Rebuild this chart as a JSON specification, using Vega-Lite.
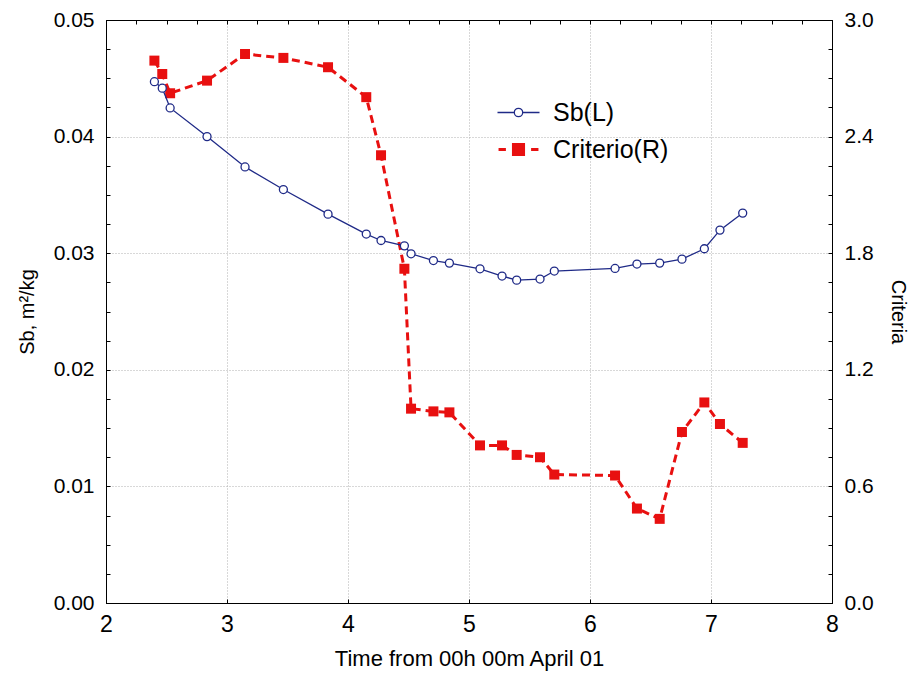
{
  "$schema": "https://vega.github.io/schema/vega-lite/v6.json",
  "width": 726,
  "height": 583,
  "autosize": "none",
  "padding": {"left": 106, "top": 20, "right": 78, "bottom": 72},
  "background": "white",
  "config": {
    "font": "Liberation Sans",
    "view": {"stroke": "black", "strokeWidth": 1},
    "axis": {
      "labelFont": "Liberation Sans",
      "titleFont": "Liberation Sans",
      "labelColor": "black",
      "titleColor": "black",
      "titleFontWeight": "normal",
      "domainColor": "black",
      "tickColor": "black",
      "tickSize": -4,
      "labelOverlap": false,
      "labelFlush": false
    }
  },
  "data": {
    "values": [
      {"t": 2.40, "sb": 0.04471, "crit": 2.791},
      {"t": 2.465, "sb": 0.04415, "crit": 2.722},
      {"t": 2.53, "sb": 0.04246, "crit": 2.623},
      {"t": 2.835, "sb": 0.0400, "crit": 2.688},
      {"t": 3.149, "sb": 0.0374, "crit": 2.825},
      {"t": 3.466, "sb": 0.03546, "crit": 2.805},
      {"t": 3.835, "sb": 0.03335, "crit": 2.757},
      {"t": 4.151, "sb": 0.03164, "crit": 2.603},
      {"t": 4.273, "sb": 0.03109, "crit": 2.304},
      {"t": 4.466, "sb": 0.03063, "crit": 1.720},
      {"t": 4.521, "sb": 0.02995, "crit": 1.000},
      {"t": 4.706, "sb": 0.02937, "crit": 0.986},
      {"t": 4.838, "sb": 0.02915, "crit": 0.981},
      {"t": 5.091, "sb": 0.02866, "crit": 0.811},
      {"t": 5.273, "sb": 0.02804, "crit": 0.811},
      {"t": 5.394, "sb": 0.02769, "crit": 0.762},
      {"t": 5.587, "sb": 0.02778, "crit": 0.750},
      {"t": 5.705, "sb": 0.02847, "crit": 0.661},
      {"t": 6.207, "sb": 0.02869, "crit": 0.656},
      {"t": 6.388, "sb": 0.02907, "crit": 0.486},
      {"t": 6.576, "sb": 0.02915, "crit": 0.433},
      {"t": 6.76, "sb": 0.02949, "crit": 0.880},
      {"t": 6.945, "sb": 0.03038, "crit": 1.032},
      {"t": 7.074, "sb": 0.03198, "crit": 0.921},
      {"t": 7.262, "sb": 0.03344, "crit": 0.824}
    ]
  },
  "layer": [
    {
      "encoding": {
        "x": {
          "field": "t",
          "type": "quantitative",
          "scale": {"domain": [2, 8], "nice": false, "zero": false},
          "axis": {
            "orient": "top",
            "values": [2, 2.25, 2.5, 2.75, 3, 3.25, 3.5, 3.75, 4, 4.25, 4.5, 4.75, 5, 5.25, 5.5, 5.75, 6, 6.25, 6.5, 6.75, 7, 7.25, 7.5, 7.75, 8],
            "labels": false,
            "title": null,
            "grid": false
          }
        },
        "y": {
          "field": "crit",
          "type": "quantitative",
          "scale": {"domain": [0, 3], "nice": false, "zero": false},
          "axis": {
            "orient": "right",
            "title": "Criteria",
            "titleFontSize": 20,
            "titlePadding": 14,
            "labelFontSize": 21,
            "labelPadding": 16,
            "values": [0, 0.15, 0.3, 0.45, 0.6, 0.75, 0.9, 1.05, 1.2, 1.35, 1.5, 1.65, 1.8, 1.95, 2.1, 2.25, 2.4, 2.55, 2.7, 2.85, 3.0],
            "format": ".1f",
            "labelExpr": "abs(datum.value / 0.6 - round(datum.value / 0.6)) < 1e-6 ? datum.label : ''",
            "grid": false
          }
        }
      },
      "layer": [
        {
          "mark": {"type": "line", "strokeWidth": 3, "strokeDash": [8, 5]},
          "encoding": {
            "color": {
              "datum": "Criterio(R)",
              "type": "nominal",
              "scale": {"domain": ["Sb(L)", "Criterio(R)"], "range": ["#1f2a87", "#e81010"]}
            }
          }
        },
        {
          "mark": {"type": "point", "shape": "square", "filled": true, "size": 100, "color": "#e81010", "opacity": 1}
        }
      ]
    },
    {
      "encoding": {
        "x": {
          "field": "t",
          "type": "quantitative",
          "scale": {"domain": [2, 8], "nice": false, "zero": false},
          "axis": {
            "orient": "bottom",
            "values": [2, 2.25, 2.5, 2.75, 3, 3.25, 3.5, 3.75, 4, 4.25, 4.5, 4.75, 5, 5.25, 5.5, 5.75, 6, 6.25, 6.5, 6.75, 7, 7.25, 7.5, 7.75, 8],
            "format": "d",
            "labelExpr": "datum.value % 1 === 0 ? datum.label : ''",
            "title": "Time from 00h 00m April 01",
            "titleFontSize": 22,
            "titlePadding": 12,
            "labelFontSize": 23,
            "labelPadding": 14,
            "grid": true,
            "gridColor": "#b0b0b0",
            "gridDash": [1, 2],
            "gridOpacity": {"condition": {"test": "datum.value % 1 === 0 && datum.value > 2 && datum.value < 8", "value": 1}, "value": 0}
          }
        },
        "y": {
          "field": "sb",
          "type": "quantitative",
          "scale": {"domain": [0, 0.05], "nice": false, "zero": false},
          "axis": {
            "orient": "left",
            "title": "Sb, m²/kg",
            "titleFontSize": 20,
            "titlePadding": 16,
            "labelFontSize": 21,
            "labelPadding": 16,
            "values": [0, 0.0025, 0.005, 0.0075, 0.01, 0.0125, 0.015, 0.0175, 0.02, 0.0225, 0.025, 0.0275, 0.03, 0.0325, 0.035, 0.0375, 0.04, 0.0425, 0.045, 0.0475, 0.05],
            "format": ".2f",
            "labelExpr": "abs(datum.value * 100 - round(datum.value * 100)) < 1e-6 ? datum.label : ''",
            "grid": true,
            "gridColor": "#b0b0b0",
            "gridDash": [1, 2],
            "gridOpacity": {"condition": {"test": "abs(datum.value * 100 - round(datum.value * 100)) < 1e-6 && datum.value > 0.001 && datum.value < 0.049", "value": 1}, "value": 0}
          }
        }
      },
      "layer": [
        {
          "mark": {"type": "line", "strokeWidth": 1.3},
          "encoding": {
            "color": {
              "datum": "Sb(L)",
              "type": "nominal",
              "legend": {
                "orient": "none",
                "legendX": 400,
                "legendY": 80,
                "title": null,
                "labelFontSize": 25,
                "labelFont": "Liberation Sans",
                "labelColor": "black",
                "symbolSize": 1764,
                "labelOffset": 22,
                "rowPadding": 11,
                "encode": {
                  "symbols": {
                    "update": {
                      "shape": {"signal": "datum.value === 'Sb(L)' ? 'M-1,0L-0.2,0M0.2,0L1,0M-0.2,0A0.2,0.2,0,1,0,0.2,0A0.2,0.2,0,1,0,-0.2,0Z' : 'M-0.95,0L-0.6,0M0.6,0L0.95,0M-0.24,-0.24L0.24,-0.24L0.24,0.24L-0.24,0.24Z'"},
                      "fill": {"signal": "datum.value === 'Sb(L)' ? 'white' : '#e81010'"},
                      "stroke": {"signal": "datum.value === 'Sb(L)' ? '#1f2a87' : '#e81010'"},
                      "strokeWidth": {"signal": "datum.value === 'Sb(L)' ? 1.3 : 3"},
                      "strokeDash": {"value": []},
                      "opacity": {"value": 1},
                      "fillOpacity": {"value": 1},
                      "strokeOpacity": {"value": 1}
                    }
                  }
                }
              }
            }
          }
        },
        {
          "mark": {"type": "point", "shape": "circle", "filled": false, "fill": "white", "stroke": "#1f2a87", "strokeWidth": 1.3, "size": 64, "opacity": 1, "fillOpacity": 1}
        }
      ]
    }
  ],
  "resolve": {"scale": {"y": "independent"}, "axis": {"x": "independent", "y": "independent"}}
}
